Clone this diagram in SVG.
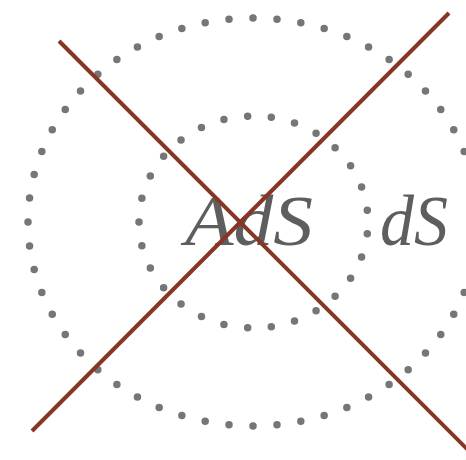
<svg xmlns="http://www.w3.org/2000/svg" width="466" height="460" viewBox="0 0 466 460">
<style>
.dots{fill:none;stroke:#767676;stroke-width:7.5;stroke-linecap:round;stroke-dasharray:0 1}
.lbl{font-family:"Liberation Serif","Times New Roman",serif;font-style:italic;font-size:72px;fill:#5e5e5e}
.cross{stroke:#873524;stroke-width:4;stroke-linecap:butt}
</style>
<rect width="466" height="460" fill="#fff"/>
<g id="outer-circle">
<path class="dots" pathLength="56" d="M478 222A225 204 0 1 1 28 222A225 204 0 1 1 478 222Z"/>
</g>
<g id="inner-circle">
<path class="dots" pathLength="29" stroke-dashoffset="-0.5" d="M368 222A114.5 106 0 1 1 139 222A114.5 106 0 1 1 368 222Z"/>
</g>
<g id="label-ads">
<text class="lbl" x="185" y="245" textLength="128" lengthAdjust="spacingAndGlyphs">AdS</text>
</g>
<g id="label-ds">
<text class="lbl" x="380" y="245" textLength="68" lengthAdjust="spacingAndGlyphs">dS</text>
</g>
<g id="connectors">
<line class="cross" x1="59" y1="41" x2="468" y2="450"/>
<line class="cross" x1="32" y1="431" x2="449" y2="13"/>
</g>
</svg>
